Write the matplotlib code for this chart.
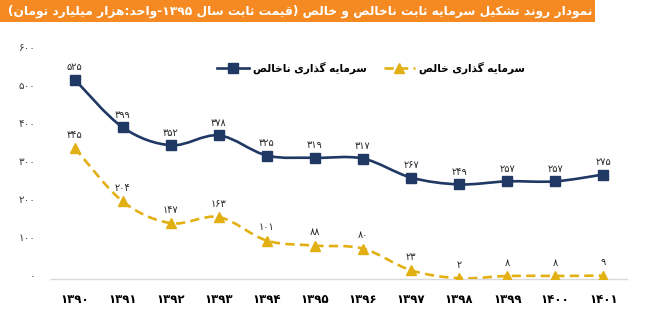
import re
import matplotlib
matplotlib.use("Agg")
import matplotlib.pyplot as plt
from matplotlib.path import Path
from matplotlib.patches import PathPatch, Rectangle
from matplotlib.lines import Line2D
from matplotlib.ticker import FuncFormatter
from matplotlib.transforms import ScaledTranslation

# سرمایه گذاری (هزار میلیارد تومان، قیمت ثابت ۱۳۹۵)
years = [1390, 1391, 1392, 1393, 1394, 1395, 1396, 1397, 1398, 1399, 1400, 1401]
gross = [525, 399, 352, 378, 325, 319, 317, 267, 249, 257, 257, 275]
net = [345, 204, 147, 163, 101, 88, 80, 23, 2, 8, 8, 9]

title = "نمودار روند تشکیل سرمایه ثابت ناخالص و خالص (قیمت ثابت سال ۱۳۹۵-واحد:هزار میلیارد تومان)"
gross_label = "سرمایه گذاری ناخالص"
net_label = "سرمایه گذاری خالص"

NAVY = "#1F3864"
GOLD = "#E2B013"
ORANGE = "#F48A21"

# contextual forms: isolated, final, initial, medial
FORMS = {
    "ا": (0xFE8D, 0xFE8E, None, None),
    "ب": (0xFE8F, 0xFE90, 0xFE91, 0xFE92),
    "ت": (0xFE95, 0xFE96, 0xFE97, 0xFE98),
    "ث": (0xFE99, 0xFE9A, 0xFE9B, 0xFE9C),
    "ح": (0xFEA1, 0xFEA2, 0xFEA3, 0xFEA4),
    "خ": (0xFEA5, 0xFEA6, 0xFEA7, 0xFEA8),
    "د": (0xFEA9, 0xFEAA, None, None),
    "ذ": (0xFEAB, 0xFEAC, None, None),
    "ر": (0xFEAD, 0xFEAE, None, None),
    "ز": (0xFEAF, 0xFEB0, None, None),
    "س": (0xFEB1, 0xFEB2, 0xFEB3, 0xFEB4),
    "ش": (0xFEB5, 0xFEB6, 0xFEB7, 0xFEB8),
    "ص": (0xFEB9, 0xFEBA, 0xFEBB, 0xFEBC),
    "ق": (0xFED5, 0xFED6, 0xFED7, 0xFED8),
    "ل": (0xFEDD, 0xFEDE, 0xFEDF, 0xFEE0),
    "م": (0xFEE1, 0xFEE2, 0xFEE3, 0xFEE4),
    "ن": (0xFEE5, 0xFEE6, 0xFEE7, 0xFEE8),
    "ه": (0xFEE9, 0xFEEA, 0xFEEB, 0xFEEC),
    "و": (0xFEED, 0xFEEE, None, None),
    "ک": (0xFB8E, 0xFB8F, 0xFB90, 0xFB91),
    "گ": (0xFB92, 0xFB93, 0xFB94, 0xFB95),
    "ی": (0xFBFC, 0xFBFD, 0xFBFE, 0xFBFF),
}
MIRROR = {"(": ")", ")": "("}
FA_DIGITS = str.maketrans("0123456789", "۰۱۲۳۴۵۶۷۸۹")


def shape(text):
    out = []
    for i, ch in enumerate(text):
        if ch not in FORMS:
            out.append(ch)
            continue
        prev = text[i - 1] if i > 0 else None
        nxt = text[i + 1] if i + 1 < len(text) else None
        join_prev = prev in FORMS and FORMS[prev][2] is not None
        join_next = nxt in FORMS and FORMS[ch][2] is not None
        iso, fin, ini, med = FORMS[ch]
        if join_prev and join_next:
            out.append(chr(med))
        elif join_prev:
            out.append(chr(fin))
        elif join_next:
            out.append(chr(ini))
        else:
            out.append(chr(iso))
    return "".join(out)


def rtl(text):
    # visual order for a right-to-left line, digit runs stay left-to-right
    tokens = re.findall(r"[0-9۰-۹]+|.", shape(text))
    return "".join(MIRROR.get(t, t) for t in reversed(tokens))


def fa(n):
    return str(int(n)).translate(FA_DIGITS)


def smooth_path(xs, ys):
    # bezier through the points, like a smoothed spreadsheet line
    pts = list(zip(xs, ys))
    verts = [pts[0]]
    codes = [Path.MOVETO]
    for i in range(len(pts) - 1):
        p0 = pts[i - 1] if i > 0 else pts[i]
        p1, p2 = pts[i], pts[i + 1]
        p3 = pts[i + 2] if i + 2 < len(pts) else pts[i + 1]
        c1 = (p1[0] + (p2[0] - p0[0]) / 6, p1[1] + (p2[1] - p0[1]) / 6)
        c2 = (p2[0] - (p3[0] - p1[0]) / 6, p2[1] - (p3[1] - p1[1]) / 6)
        verts += [c1, c2, p2]
        codes += [Path.CURVE4] * 3
    return Path(verts, codes)


plt.rcParams["font.family"] = ["DejaVu Sans"]
fig = plt.figure(figsize=(6.54, 3.23), dpi=100)
ax = fig.add_axes([0.0775, 0.1362, 0.8817, 0.7058])

x = list(range(len(years)))

ax.add_patch(PathPatch(smooth_path(x, gross), fill=False, edgecolor=NAVY,
                       lw=1.9, capstyle="round", zorder=3))
ax.add_patch(PathPatch(smooth_path(x, net), fill=False, edgecolor=GOLD,
                       lw=1.9, linestyle=(0, (3.5, 2)), zorder=3))
ax.plot(x, gross, ls="none", marker="s", ms=6.5, color=NAVY, zorder=4)
ax.plot(x, net, ls="none", marker="^", ms=6.5, color=GOLD, zorder=4)

for xi, g, n in zip(x, gross, net):
    ax.annotate(fa(g), (xi, g), xytext=(0, 9), textcoords="offset points",
                ha="center", va="center", fontsize=7, color="#262626")
    ax.annotate(fa(n), (xi, n), xytext=(0, 9.5), textcoords="offset points",
                ha="center", va="center", fontsize=7, color="#262626")

ax.set_xlim(-0.5, len(years) - 0.5)
ax.set_ylim(0, 600)
ax.set_yticks(range(0, 601, 100))
ax.yaxis.set_major_formatter(FuncFormatter(lambda v, p: fa(v)))
ax.set_xticks(x)
ax.set_xticklabels([fa(y) for y in years], fontsize=8.5, fontweight="bold")
ax.tick_params(axis="x", length=0, pad=10)
ax.tick_params(axis="y", length=0, pad=11, labelsize=7.5, labelcolor="#3A3A3A")
lift = ScaledTranslation(0, 3 / 72, fig.dpi_scale_trans)
for lbl in ax.get_yticklabels():
    lbl.set_transform(lbl.get_transform() + lift)
for side in ["left", "right", "top"]:
    ax.spines[side].set_visible(False)
ax.spines["bottom"].set_color("#D9D9D9")
ax.spines["bottom"].set_linewidth(1.0)

handles = [
    Line2D([], [], color=NAVY, lw=1.9, marker="s", ms=6.5),
    Line2D([], [], color=GOLD, lw=1.9, ls=(0, (3.5, 2)), marker="^", ms=6.5),
]
fig.legend(handles, [rtl(gross_label), rtl(net_label)], ncol=2, frameon=False,
           loc="center left", bbox_to_anchor=(217 / 654, 0.789),
           borderpad=0, borderaxespad=0, handlelength=3.0, handletextpad=0.4,
           columnspacing=1.6, prop={"size": 7.6, "weight": "bold"})

fig.add_artist(Rectangle((0, 1 - 22 / 323), 595 / 654, 22 / 323,
                         transform=fig.transFigure, color=ORANGE, lw=0))
head = fig.text(592 / 654, 1 - 11 / 323, rtl(title), ha="right", va="center",
                color="white", fontsize=10, fontweight="bold")
# shrink the heading until it fits inside the orange band
renderer = fig.canvas.get_renderer()
width = head.get_window_extent(renderer).width
if width > 590:
    head.set_fontsize(10 * 590 / width)

fig.savefig("out.png", dpi=100)
